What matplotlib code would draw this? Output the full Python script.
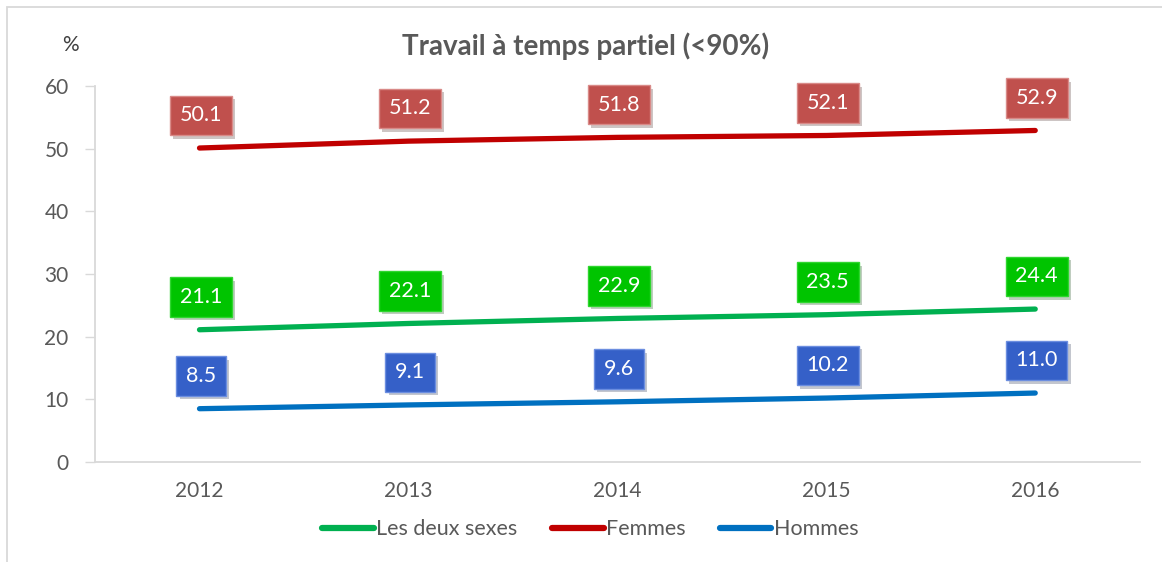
import matplotlib.pyplot as plt
import matplotlib.patheffects as pe
from matplotlib.patches import Rectangle
import numpy as np

plt.rcParams["font.family"] = ["Lato", "DejaVu Sans"]

years = ["2012", "2013", "2014", "2015", "2016"]
deux_sexes = [21.1, 22.1, 22.9, 23.5, 24.4]
femmes = [50.1, 51.2, 51.8, 52.1, 52.9]
hommes = [8.5, 9.1, 9.6, 10.2, 11.0]

series = [
    ("Les deux sexes", deux_sexes, "#00b050", "#00c400", "#2fd62f"),
    ("Femmes", femmes, "#c00000", "#c0504d", "#d98a88"),
    ("Hommes", hommes, "#0070c0", "#3560c8", "#6c8ee0"),
]

fig = plt.figure(figsize=(11.62, 5.62), dpi=100)
ax = fig.add_axes([0.0818, 0.178, 0.899, 0.669])

x = np.arange(len(years))
for name, vals, line_col, box_col, edge_col in series:
    ax.plot(x, vals, color=line_col, lw=3.8, solid_capstyle="round", label=name, zorder=2)
    for xi, v in zip(x, vals):
        ann = ax.annotate(f"{v:.1f}", (xi, v), xytext=(1, 23.5), textcoords="offset points",
                          ha="center", va="center", fontsize=15.5, color="white",
                          bbox=dict(boxstyle="square,pad=0.45", fc=box_col, ec=edge_col, lw=1),
                          zorder=4)
        ann.get_bbox_patch().set_path_effects(
            [pe.SimplePatchShadow(offset=(2.5, -2.5), alpha=0.25), pe.Normal()])

ax.set_xlim(-0.5, len(years) - 0.5)
ax.set_ylim(0, 60)
ax.set_yticks(range(0, 61, 10))
ax.set_xticks(x)
ax.set_xticklabels(years)
ax.tick_params(axis="y", length=7, width=1, color="#d9d9d9", colors="#595959",
               labelsize=15, pad=12)
ax.tick_params(axis="x", length=0, colors="#595959", labelsize=15, pad=14)
for side in ["top", "right"]:
    ax.spines[side].set_visible(False)
for side in ["left", "bottom"]:
    ax.spines[side].set_color("#d9d9d9")
    ax.spines[side].set_linewidth(1.3)

fig.text(0.504, 0.917, "Travail à temps partiel (<90%)", ha="center", va="center",
         fontsize=20, fontweight="bold", color="#595959")
fig.text(0.061, 0.92, "%", ha="center", va="center", fontsize=15, color="#404040")

leg = fig.legend(loc="center", bbox_to_anchor=(0.508, 0.058), ncol=3, frameon=False,
                 fontsize=15.5, handlelength=2.4, handletextpad=0.1, columnspacing=1.6)
for line in leg.get_lines():
    line.set_linewidth(4.5)
for txt in leg.get_texts():
    txt.set_color("#595959")

# outer chart border
fig.patches.append(Rectangle((0.006, -0.01), 1.2, 0.998, transform=fig.transFigure,
                             fill=False, ec="#d9d9d9", lw=1.3))

fig.savefig("out.png", dpi=100)
